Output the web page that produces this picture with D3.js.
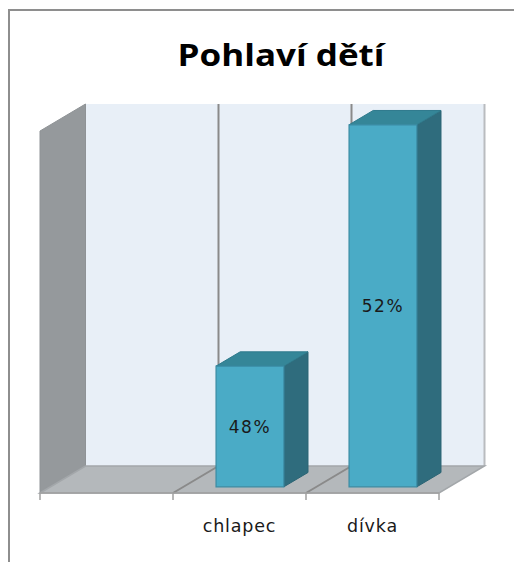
<!DOCTYPE html>
<html>
<head>
<meta charset="utf-8">
<script src="https://cdn.jsdelivr.net/npm/d3@7"></script>
<style>
  html, body { margin: 0; padding: 0; background: #fff; }
  svg { display: block; }
</style>
</head>
<body>
<div id="chart"></div>
<script>
// data
const title = "Pohlaví dětí";
const categories = ["", "chlapec", "dívka"];
const values = [null, 0.48, 0.52];
const valueDomain = [0.46, 0.52];

const W = 514, H = 562;
const DX = 45.5, DY = -27;        // full depth of the 3d box
const F1 = 0.23, F2 = 0.76;       // bar front / back depth

const svg = d3.select("#chart").append("svg")
  .attr("width", W).attr("height", H);

// outer frame
svg.append("rect")
  .attr("x", 9).attr("y", 10).attr("width", 544).attr("height", 580)
  .attr("fill", "none").attr("stroke", "#8e8e8e").attr("stroke-width", 2);

svg.append("text")
  .attr("x", 281).attr("y", 66)
  .attr("text-anchor", "middle")
  .attr("font-family", "'Open Sans', 'Noto Sans', sans-serif")
  .attr("font-weight", "bold")
  .attr("font-size", 30)
  .attr("textLength", 207)
  .attr("lengthAdjust", "spacingAndGlyphs")
  .attr("fill", "#000")
  .text(title);

const x = d3.scaleBand().domain(categories).range([40, 439]);
const y = d3.scaleLinear().domain(valueDomain).range([493, 131]);
const P = (px, py, f) => [px + f * DX, py + f * DY];
const poly = pts => "M" + pts.map(p => p.join(",")).join("L") + "Z";

const x0 = x.range()[0], x1 = x.range()[1];
const yb = y(valueDomain[0]), yt = y(valueDomain[1]);

// back wall
svg.append("path")
  .attr("d", poly([P(x0, yt, 1), P(x1, yt, 1), P(x1, yb, 1), P(x0, yb, 1)]))
  .attr("fill", "#e8eff7");
svg.append("path")
  .attr("d", "M" + P(x1, yt, 1).join(",") + "L" + P(x1, yb, 1).join(","))
  .attr("stroke", "#b9bcbf").attr("stroke-width", 2);

// left side wall
svg.append("path")
  .attr("d", poly([P(x0, yt, 0), P(x0, yt, 1), P(x0, yb, 1), P(x0, yb, 0)]))
  .attr("fill", "#95999c").attr("stroke", "#8f9396").attr("stroke-width", 1);

// floor
svg.append("path")
  .attr("d", poly([P(x0, yb, 0), P(x0, yb, 1), P(x1, yb, 1), P(x1, yb, 0)]))
  .attr("fill", "#b4b8bb").attr("stroke", "#a3a7aa").attr("stroke-width", 1.5);

// category dividers on back wall and floor
const bounds = categories.slice(1).map(c => x(c));
svg.selectAll(".grid")
  .data(bounds).enter().append("path")
  .attr("class", "grid")
  .attr("d", b => "M" + P(b, yt, 1).join(",") + "L" + P(b, yb, 1).join(",") + "L" + P(b, yb, 0).join(","))
  .attr("fill", "none").attr("stroke", "#8a8a8a").attr("stroke-width", 2);

// front axis line and ticks
svg.append("line")
  .attr("x1", x0).attr("x2", x1).attr("y1", yb).attr("y2", yb)
  .attr("stroke", "#a0a0a0").attr("stroke-width", 1.5);
svg.selectAll(".tick")
  .data(categories.map(c => x(c)).concat([x1])).enter().append("line")
  .attr("class", "tick")
  .attr("x1", d => d).attr("x2", d => d)
  .attr("y1", yb).attr("y2", yb + 7)
  .attr("stroke", "#a0a0a0").attr("stroke-width", 1.5);

// bars
const bw = x.bandwidth() * 0.51;
const barData = categories.map((c, i) => ({ c, v: values[i] })).filter(d => d.v != null);
const bars = svg.selectAll(".bar").data(barData).enter().append("g").attr("class", "bar");

bars.each(function(d) {
  const g = d3.select(this);
  const l = x(d.c) + (x.bandwidth() - bw) / 2;
  const r = l + bw;
  const top = y(d.v), bot = y(valueDomain[0]);
  // side
  g.append("path")
    .attr("d", poly([P(r, top, F1), P(r, top, F2), P(r, bot, F2), P(r, bot, F1)]))
    .attr("fill", "#2f6c7d").attr("stroke", "#2b6474").attr("stroke-width", 1);
  // top
  g.append("path")
    .attr("d", poly([P(l, top, F1), P(l, top, F2), P(r, top, F2), P(r, top, F1)]))
    .attr("fill", "#358698").attr("stroke", "#2f7a8c").attr("stroke-width", 1);
  // front
  g.append("path")
    .attr("d", poly([P(l, top, F1), P(r, top, F1), P(r, bot, F1), P(l, bot, F1)]))
    .attr("fill", "#4aabc6").attr("stroke", "#3a8ba3").attr("stroke-width", 1.2);
  const c = P((l + r) / 2, (top + bot) / 2, F1);
  g.append("text")
    .attr("x", c[0]).attr("y", c[1])
    .attr("dy", "0.36em")
    .attr("text-anchor", "middle")
    .attr("font-family", "'DejaVu Sans', sans-serif")
    .attr("font-size", 17)
    .attr("letter-spacing", 1.6)
    .attr("fill", "#1a1a1a")
    .text(d3.format(".0%")(d.v));
});

// category labels
svg.selectAll(".cat")
  .data(categories).enter().append("text")
  .attr("class", "cat")
  .attr("x", d => x(d) + x.bandwidth() / 2)
  .attr("y", 532)
  .attr("text-anchor", "middle")
  .attr("font-family", "'DejaVu Sans', sans-serif")
  .attr("font-size", 17.5)
  .attr("letter-spacing", 0.8)
  .attr("fill", "#1a1a1a")
  .text(d => d);
</script>
</body>
</html>
